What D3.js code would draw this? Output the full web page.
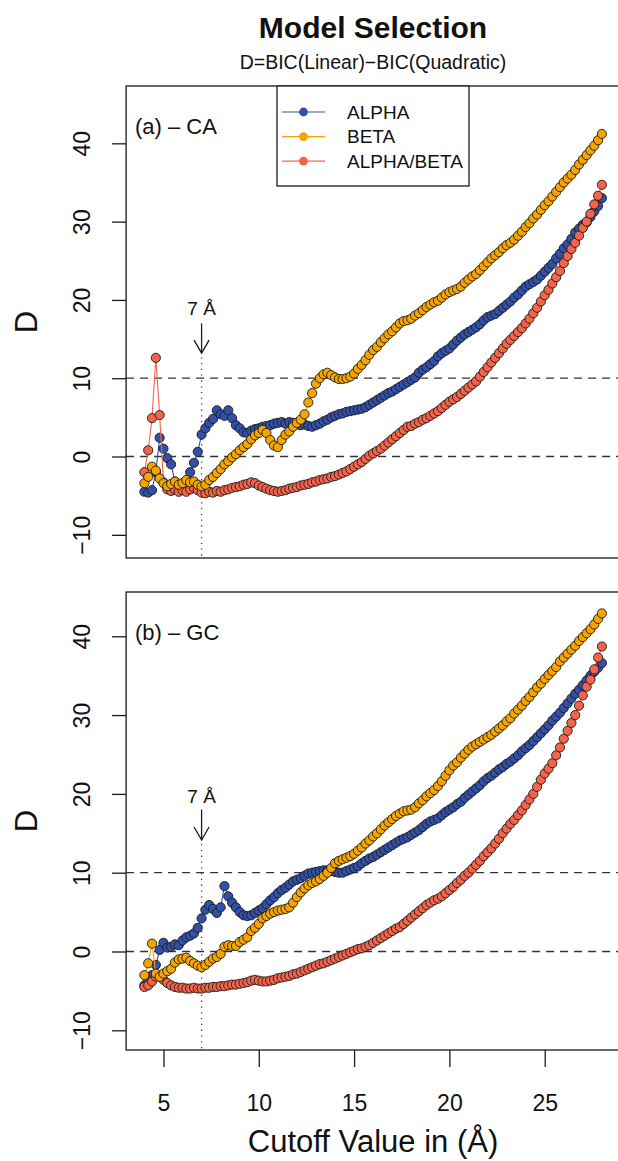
<!DOCTYPE html>
<html><head><meta charset="utf-8">
<script src="https://cdn.jsdelivr.net/npm/d3@7"></script>
<style>
body{margin:0;background:#fff}
svg{display:block}
text{font-family:"Liberation Sans",Arial,Helvetica,sans-serif;fill:#111}
</style>
</head><body>
<svg id="chart" width="618" height="1161"></svg>
<script>
// ---------------- DATA ----------------
// cutoff values (Å), 4.0 .. 28.0 in 0.2 steps
const cutoffs = d3.range(121).map(i => Math.round((4 + 0.2 * i) * 10) / 10);
const seriesNames = ["ALPHA", "BETA", "ALPHA/BETA"];
const yTicks = [-10, 0, 10, 20, 30, 40];
const xTicks = [5, 10, 15, 20, 25];
const refLines = [0, 10];

// (a) - CA
const caAlpha = [-4.5,-4.6,-4.3,-2.0,2.4,
1.0,-0.2,-1.0,-3.2,-3.8,
-4.0,-3.6,-2.0,-0.8,0.6,
2.8,3.6,4.3,4.8,5.9,
5.4,5.2,5.9,4.9,4.0,
3.6,3.1,3.0,3.3,3.5,
3.6,3.8,3.9,4.0,4.2,
4.3,4.4,4.2,4.4,4.3,
4.1,4.0,4.1,3.9,3.8,
4.0,4.2,4.5,4.7,5.0,
5.2,5.4,5.5,5.7,5.8,
5.9,6.0,6.1,6.3,6.6,
6.9,7.2,7.5,7.8,8.1,
8.3,8.6,8.9,9.2,9.5,
9.8,10.1,10.7,11.1,11.4,
11.8,12.2,12.8,13.2,13.5,
13.8,14.3,14.8,15.2,15.6,
15.9,16.2,16.5,16.9,17.4,
17.8,18.0,18.2,18.6,19.0,
19.4,19.8,20.3,20.7,21.2,
21.7,22.0,22.3,22.6,23.1,
23.6,24.1,24.6,25.3,25.9,
26.6,27.1,27.8,28.6,29.1,
29.6,29.9,30.6,31.3,32.0,
33.0];
const caBeta = [-3.4,-2.6,-1.3,-1.8,-2.8,
-3.4,-3.8,-3.5,-3.2,-3.6,
-3.4,-3.0,-3.3,-3.2,-3.6,
-3.8,-3.6,-3.0,-2.6,-2.1,
-1.6,-1.0,-0.6,-0.1,0.3,
0.8,1.2,1.6,2.2,2.7,
3.0,3.4,3.0,2.1,1.4,
1.2,2.1,2.8,3.2,3.8,
4.3,4.7,5.4,6.9,8.1,
9.3,10.0,10.5,10.7,10.4,
10.1,9.9,9.9,10.0,10.2,
10.6,11.2,11.7,12.3,13.0,
13.6,14.0,14.6,15.1,15.6,
16.0,16.5,17.0,17.3,17.4,
17.6,18.0,18.3,18.7,19.1,
19.4,19.7,19.9,20.3,20.7,
21.0,21.2,21.4,21.7,22.2,
22.6,23.0,23.3,23.8,24.3,
24.8,25.3,25.7,26.1,26.6,
27.0,27.3,27.7,28.2,28.7,
29.3,29.8,30.4,30.9,31.5,
32.1,32.6,33.2,33.8,34.4,
35.0,35.5,36.0,36.6,37.3,
37.9,38.5,39.1,39.7,40.4,
41.2];
const caRatio = [-2.0,0.8,4.9,12.6,5.3,
-3.3,-4.2,-4.4,-4.2,-4.5,
-4.3,-4.5,-4.2,-4.0,-4.3,
-4.6,-4.7,-4.5,-4.6,-4.4,
-4.5,-4.3,-4.2,-4.0,-3.9,
-3.8,-3.6,-3.5,-3.3,-3.4,
-3.7,-3.9,-4.1,-4.3,-4.4,
-4.5,-4.4,-4.3,-4.1,-4.0,
-3.9,-3.7,-3.6,-3.5,-3.3,
-3.2,-3.0,-2.9,-2.8,-2.6,
-2.5,-2.3,-2.1,-1.9,-1.6,
-1.3,-1.0,-0.7,-0.3,0.1,
0.4,0.7,1.0,1.4,1.8,
2.2,2.6,3.0,3.4,3.8,
3.9,4.2,4.4,4.7,4.9,
5.2,5.5,5.8,6.2,6.6,
7.0,7.3,7.6,8.0,8.4,
8.8,9.2,9.6,10.2,10.8,
11.4,12.0,12.6,13.2,13.8,
14.4,14.9,15.4,15.9,16.4,
17.0,17.6,18.3,19.0,19.8,
20.6,21.3,22.1,22.9,23.7,
24.7,25.6,26.5,27.3,28.2,
29.2,30.0,31.0,32.2,33.3,
34.7];

// (b) - GC
const gcAlpha = [-4.3,-3.8,-3.0,-1.7,0.2,
1.1,0.5,0.6,0.9,0.8,
1.4,1.8,2.0,2.3,3.0,
4.2,5.3,5.9,5.4,4.9,
5.6,8.3,7.0,6.2,5.6,
5.0,4.6,4.5,4.6,4.9,
5.2,5.5,6.0,6.5,6.9,
7.4,7.8,8.1,8.5,8.9,
9.1,9.3,9.6,9.9,10.0,
10.1,10.2,10.3,10.3,10.2,
10.1,10.0,10.0,10.2,10.4,
10.6,10.8,11.2,11.5,11.8,
12.0,12.3,12.6,12.9,13.2,
13.5,13.8,14.1,14.3,14.5,
14.8,15.1,15.4,15.8,16.2,
16.5,16.7,16.9,17.3,17.7,
18.0,18.3,18.7,19.0,19.5,
19.9,20.3,20.7,21.1,21.6,
22.0,22.3,22.7,23.1,23.4,
23.8,24.1,24.5,24.9,25.4,
25.8,26.2,26.7,27.2,27.7,
28.2,28.7,29.3,29.8,30.3,
30.9,31.5,32.1,32.7,33.2,
33.8,34.4,35.0,35.5,36.0,
36.6];
const gcBeta = [-3.0,-1.5,1.0,-2.8,-3.2,
-2.8,-2.5,-2.2,-1.4,-1.0,
-0.9,-0.8,-1.2,-1.5,-1.8,
-2.0,-1.7,-1.3,-0.9,-0.7,
-0.3,0.6,0.8,0.7,0.7,
1.2,1.5,1.8,2.6,3.0,
3.5,4.2,4.5,4.8,5.0,
5.2,5.3,5.4,5.6,6.2,
6.9,7.5,8.0,8.4,8.7,
8.9,9.2,9.6,10.0,10.6,
11.2,11.5,11.7,11.9,12.1,
12.4,12.8,13.2,13.7,14.1,
14.6,15.0,15.5,16.0,16.4,
16.8,17.2,17.5,17.8,17.9,
18.0,18.3,18.8,19.2,19.7,
20.1,20.5,21.0,21.6,22.3,
23.0,23.6,24.0,24.6,25.1,
25.6,26.0,26.3,26.6,26.9,
27.2,27.5,27.9,28.3,28.7,
29.2,29.6,30.2,30.7,31.2,
31.8,32.3,32.9,33.5,34.0,
34.6,35.1,35.6,36.1,36.8,
37.3,37.8,38.3,38.8,39.4,
39.9,40.4,40.9,41.5,42.2,
42.9];
const gcRatio = [-4.5,-4.3,-3.8,-3.2,-3.0,
-3.6,-4.0,-4.3,-4.5,-4.6,
-4.6,-4.7,-4.7,-4.6,-4.7,
-4.7,-4.6,-4.6,-4.5,-4.5,
-4.4,-4.4,-4.3,-4.2,-4.2,
-4.1,-4.0,-3.9,-3.7,-3.6,
-3.7,-3.8,-3.8,-3.7,-3.6,
-3.4,-3.3,-3.2,-3.1,-2.9,
-2.8,-2.6,-2.4,-2.2,-2.0,
-1.8,-1.6,-1.5,-1.3,-1.1,
-0.9,-0.7,-0.5,-0.3,-0.1,
0.1,0.3,0.4,0.6,0.8,
1.1,1.4,1.7,2.0,2.3,
2.6,2.9,3.1,3.5,3.9,
4.3,4.7,5.1,5.5,5.9,
6.2,6.5,6.7,7.0,7.4,
7.8,8.2,8.7,9.1,9.6,
10.0,10.5,11.0,11.5,12.1,
12.6,13.1,13.7,14.3,15.0,
15.6,16.2,16.7,17.3,17.9,
18.6,19.3,20.0,20.9,21.8,
22.6,23.2,23.9,24.9,25.9,
27.0,28.0,29.0,30.0,31.2,
32.5,33.6,34.5,35.8,37.3,
38.7];

// ---------------- DRAWING ----------------
const colors = {"ALPHA": "#3350a8", "BETA": "#f5a400", "ALPHA/BETA": "#f3644a"};
const drawOrder = ["ALPHA", "ALPHA/BETA", "BETA"];
const ink = "#1a1a1a";
const svg = d3.select("#chart");

const x = d3.scaleLinear().domain([3.04, 28.96]).range([126.1, 620.2]);

const panels = [
  {label: "(a) \u2013 CA", top: 86, bottom: 558, ylim: [-12.96, 47.32],
   series: {"ALPHA": caAlpha, "BETA": caBeta, "ALPHA/BETA": caRatio},
   arrow: {text: 18.1, from: 17.0, to: 13.2}, legend: true, xaxis: false},
  {label: "(b) \u2013 GC", top: 592, bottom: 1050, ylim: [-12.5, 45.62],
   series: {"ALPHA": gcAlpha, "BETA": gcBeta, "ALPHA/BETA": gcRatio},
   arrow: {text: 18.8, from: 18.0, to: 14.15}, legend: false, xaxis: true}
];

// Title
svg.append("text").attr("x", 373).attr("y", 38).attr("text-anchor", "middle")
  .attr("font-size", 30).attr("font-weight", "bold").text("Model Selection");
svg.append("text").attr("x", 373).attr("y", 69).attr("text-anchor", "middle")
  .attr("font-size", 19.5).text("D=BIC(Linear)\u2212BIC(Quadratic)");

const fmt = d => d < 0 ? "\u2212" + Math.abs(d) : String(d);

panels.forEach(p => {
  const y = d3.scaleLinear().domain(p.ylim).range([p.bottom, p.top]);
  const g = svg.append("g");

  // reference dashed lines
  refLines.forEach(v => {
    g.append("line").attr("x1", x.range()[0]).attr("x2", x.range()[1])
      .attr("y1", y(v)).attr("y2", y(v))
      .attr("stroke", "#333").attr("stroke-width", 1.3).attr("stroke-dasharray", "8,6");
  });

  // 7 Å marker
  const ax = x(7);
  g.append("line").attr("x1", ax).attr("x2", ax).attr("y1", y(p.arrow.from)).attr("y2", y(p.arrow.to))
    .attr("stroke", ink).attr("stroke-width", 1.3);
  g.append("path")
    .attr("d", `M${ax - 7.5},${y(p.arrow.to) - 13}L${ax},${y(p.arrow.to)}L${ax + 7.5},${y(p.arrow.to) - 13}`)
    .attr("fill", "none").attr("stroke", ink).attr("stroke-width", 1.3);
  g.append("line").attr("x1", ax).attr("x2", ax).attr("y1", y(p.arrow.to) + 4).attr("y2", p.bottom)
    .attr("stroke", "#444").attr("stroke-width", 1.3).attr("stroke-dasharray", "1.3,4.5");
  g.append("text").attr("x", ax).attr("y", y(p.arrow.text)).attr("text-anchor", "middle")
    .attr("font-size", 19).text("7 \u00C5");

  // series
  const line = d3.line().x((d, i) => x(cutoffs[i])).y(d => y(d));
  drawOrder.forEach(name => {
    const vals = p.series[name];
    const sg = g.append("g");
    sg.append("path").datum(vals).attr("d", line)
      .attr("fill", "none").attr("stroke", colors[name]).attr("stroke-width", 1.1);
    sg.selectAll("circle").data(vals).join("circle")
      .attr("cx", (d, i) => x(cutoffs[i])).attr("cy", d => y(d)).attr("r", 4.6)
      .attr("fill", colors[name]).attr("stroke", "#1a1a1a").attr("stroke-width", 0.9);
  });

  // box
  g.append("rect").attr("x", x.range()[0]).attr("y", p.top)
    .attr("width", x.range()[1] - x.range()[0]).attr("height", p.bottom - p.top)
    .attr("fill", "none").attr("stroke", ink).attr("stroke-width", 1.3);

  // y axis
  const yAxis = g.append("g").attr("transform", `translate(${x.range()[0]},0)`)
    .call(d3.axisLeft(y).tickValues(yTicks).tickSize(14).tickSizeOuter(0).tickFormat(fmt));
  yAxis.select(".domain").remove();
  yAxis.selectAll(".tick line").attr("stroke", ink).attr("stroke-width", 1.3);
  yAxis.selectAll(".tick text").attr("transform", "rotate(-90)").attr("x", 0).attr("y", -36)
    .attr("dy", 0).attr("text-anchor", "middle").attr("font-size", 23)
    .attr("font-family", '"Liberation Sans",Arial,Helvetica,sans-serif').attr("fill", "#111");

  // y label
  const yc = (p.top + p.bottom) / 2;
  svg.append("text").attr("transform", `translate(37,${yc}) rotate(-90)`)
    .attr("text-anchor", "middle").attr("font-size", 31).text("D");

  // panel label
  g.append("text").attr("x", 135).attr("y", p.top + 48).attr("font-size", 22).text(p.label);

  // x axis
  if (p.xaxis) {
    const xAxis = g.append("g").attr("transform", `translate(0,${p.bottom})`)
      .call(d3.axisBottom(x).tickValues(xTicks).tickSize(17).tickSizeOuter(0));
    xAxis.select(".domain").remove();
    xAxis.selectAll(".tick line").attr("stroke", ink).attr("stroke-width", 1.3);
    xAxis.selectAll(".tick text").attr("y", 61).attr("dy", 0).attr("font-size", 23)
      .attr("font-family", '"Liberation Sans",Arial,Helvetica,sans-serif').attr("fill", "#111");
    svg.append("text").attr("x", 373).attr("y", 1152).attr("text-anchor", "middle")
      .attr("font-size", 31).text("Cutoff Value in (\u00C5)");
  }

  // legend
  if (p.legend) {
    const lg = g.append("g");
    lg.append("rect").attr("x", 277).attr("y", p.top).attr("width", 192).attr("height", 100)
      .attr("fill", "#fff").attr("stroke", ink).attr("stroke-width", 1.3);
    seriesNames.forEach((name, i) => {
      const ly = p.top + 26 + i * 24.6;
      lg.append("line").attr("x1", 282).attr("x2", 325).attr("y1", ly).attr("y2", ly)
        .attr("stroke", colors[name]).attr("stroke-width", 1.2);
      lg.append("circle").attr("cx", 303.5).attr("cy", ly).attr("r", 4.4).attr("fill", colors[name]);
      lg.append("text").attr("x", 347).attr("y", ly).attr("dy", "0.36em")
        .attr("font-size", 19).text(name);
    });
  }
});
</script>
</body></html>
